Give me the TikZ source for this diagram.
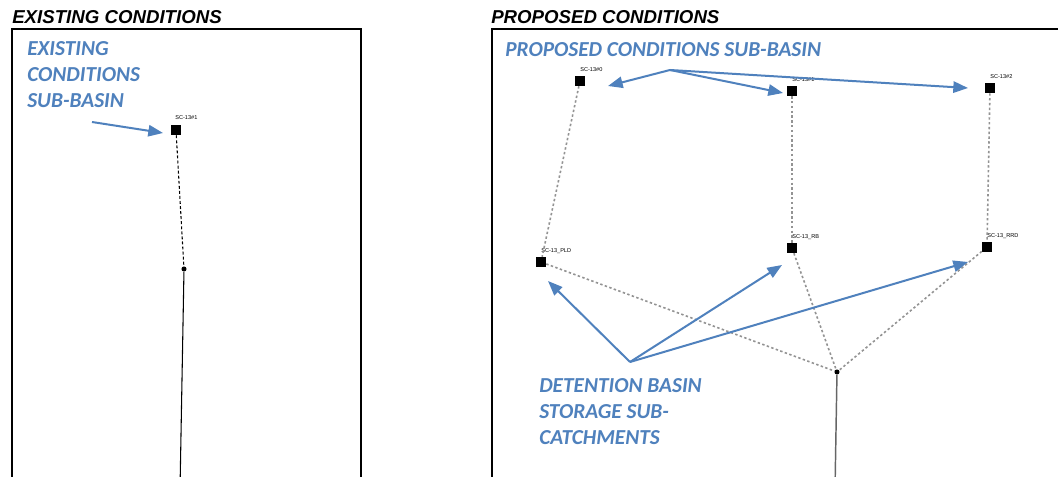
\documentclass[tikz,border=0pt]{standalone}
\usepackage{fontspec}
\setmainfont{Liberation Sans}
\newfontfamily\calib{Carlito}
\usetikzlibrary{arrows.meta}
\definecolor{ablue}{HTML}{4F81BD}
\begin{document}
\begin{tikzpicture}[x=0.75pt,y=-0.75pt,
  sub/.style={fill=black,minimum size=7.5pt,inner sep=0pt,draw=none,rectangle},
  junc/.style={fill=black,circle,minimum size=3.8pt,inner sep=0pt},
  lab/.style={anchor=base west,inner sep=0pt,font=\fontsize{4.2}{5}\selectfont},
  title/.style={anchor=base west,inner sep=0pt,font=\fontsize{14}{16}\selectfont\bfseries\itshape},
  note/.style={anchor=base west,inner sep=0pt,text=ablue,font=\calib\fontsize{16}{19}\selectfont\bfseries\itshape},
  callout/.style={draw=ablue,line width=1.5pt,-{Triangle[length=11pt,width=8.5pt]}},
  exlink/.style={black,line width=0.8pt,dash pattern=on 2.2pt off 1.6pt},
  prlink/.style={gray!85!white,line width=1.2pt,dash pattern=on 1.8pt off 1.8pt},
  outlet/.style={line width=0.8pt},
  frame/.style={line width=1.5pt}]
\useasboundingbox (0,0) rectangle (1058,477);
\clip (0,0) rectangle (1058,477);
\fill[white] (0,0) rectangle (1058,477);

% titles
\node[title] (t1) at (12,24) {EXISTING CONDITIONS};
\node[title] (t2) at (491,24) {PROPOSED CONDITIONS};

% frames
\draw[frame] (12,490) -- (12,29) -- (361,29) -- (361,490);
\draw[frame] (492,490) -- (492,29) -- (1070,29);

% ---------- existing ----------
\node[note] (n1a) at (27,56) {EXISTING};
\node[note] (n1b) at (27,82) {CONDITIONS};
\node[note] (n1c) at (27,108) {SUB-BASIN};

\node[sub] (e1) at (176,130) {};
\node[lab] (e1l) at (175,120) {SC-13\#1};
\node[junc] (ej) at (184,269) {};
\coordinate (eout) at (180,490);
\draw[exlink] (e1) -- (ej);
\draw[outlet] (ej) -- (eout);

\coordinate (ea) at (92,122);
\coordinate (eat) at (163,133);
\draw[callout] (ea) -- (eat);

% ---------- proposed ----------
\node[note] (n2) at (505,57) {PROPOSED CONDITIONS SUB-BASIN};

\node[sub] (p0) at (580,81) {};
\node[lab] (p0l) at (580,72) {SC-13\#0};
\node[sub] (p1) at (792,91) {};
\node[lab] (p1l) at (792,82) {SC-13\#1};
\node[sub] (p2) at (990,88) {};
\node[lab] (p2l) at (990,79) {SC-13\#2};

\node[sub] (pld) at (541,262) {};
\node[lab] (pldl) at (541,253) {SC-13\_PLD};
\node[sub] (prb) at (792,248) {};
\node[lab] (prbl) at (792,239) {SC-13\_RB};
\node[sub] (prrd) at (987,247) {};
\node[lab] (prrdl) at (987,238) {SC-13\_RRD};

\node[junc] (pj) at (837,372) {};
\coordinate (pout) at (835,490);

\draw[prlink] (p0) -- (pld);
\draw[prlink] (p1) -- (prb);
\draw[prlink] (p2) -- (prrd);
\draw[prlink] (pld) -- (pj);
\draw[prlink] (prb) -- (pj);
\draw[prlink] (prrd) -- (pj);
\draw[outlet,gray!80!black,line width=1.1pt] (pj) -- (pout);

\coordinate (pa) at (670,70);
\coordinate (pa0) at (608,86);
\coordinate (pa1) at (783,93);
\coordinate (pa2) at (968,88);
\draw[callout] (pa) -- (pa0);
\draw[callout] (pa) -- (pa1);
\draw[callout] (pa) -- (pa2);

\node[note] (n3a) at (539,393) {DETENTION BASIN};
\node[note] (n3b) at (539,419) {STORAGE SUB-};
\node[note] (n3c) at (539,445) {CATCHMENTS};

\coordinate (da) at (630,362);
\coordinate (da0) at (548,281);
\coordinate (da1) at (782,265);
\coordinate (da2) at (968,262);
\draw[callout] (da) -- (da0);
\draw[callout] (da) -- (da1);
\draw[callout] (da) -- (da2);
\end{tikzpicture}
\end{document}
